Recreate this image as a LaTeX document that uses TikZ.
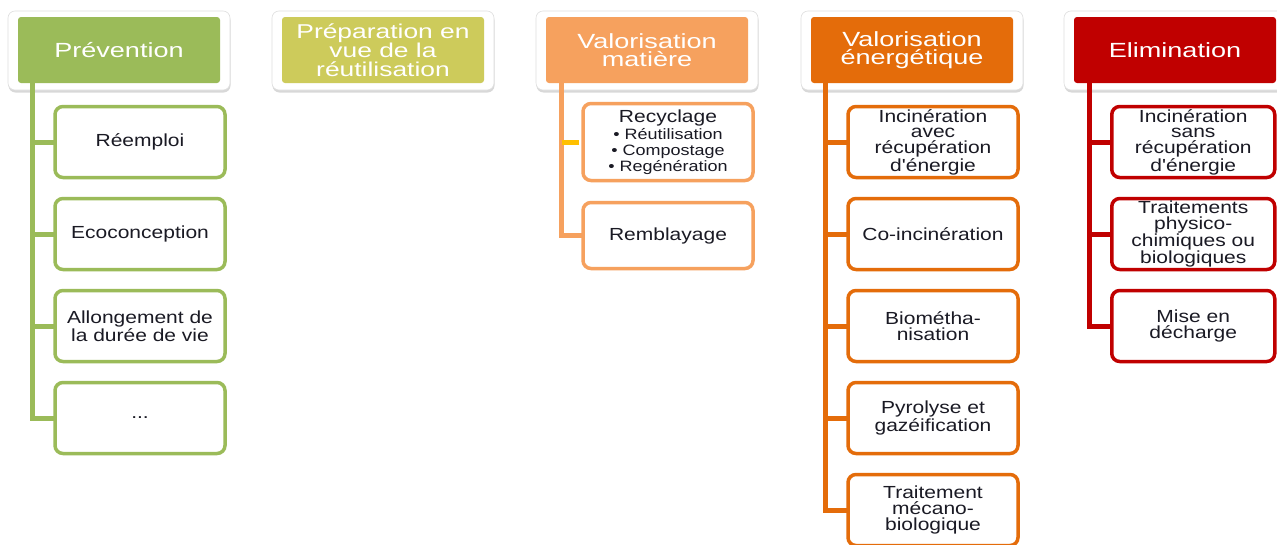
\documentclass[tikz,border=0pt]{standalone}
\usepackage{fontspec}
\setmainfont{Liberation Sans}
\newfontfamily\hfont[FakeStretch=1.32]{Liberation Sans}
\newfontfamily\cfont[FakeStretch=1.2]{Liberation Sans}
\usetikzlibrary{calc,shadows}
\definecolor{cgreen}{HTML}{9BBB59}
\definecolor{cyel}{HTML}{CDCB5B}
\definecolor{clor}{HTML}{F6A15E}
\definecolor{cor}{HTML}{E46C0A}
\definecolor{cred}{HTML}{C00000}
\definecolor{cgold}{HTML}{FFC000}
\definecolor{ctext}{HTML}{1A1A24}
\newcommand\bsmall{\fontsize{15}{14.5}\selectfont}
\tikzset{
  frame/.style={fill=white, draw=gray!25, line width=0.6pt, rounded corners=7pt,
    drop shadow={shadow xshift=0.5pt, shadow yshift=-2.5pt, opacity=0.3, fill=gray}},
  hdr/.style={fill=#1, text=white, minimum width=202pt, minimum height=66pt,
    rounded corners=3pt, inner sep=0pt, align=center,
    font=\hfont\fontsize{20.5}{18.5}\selectfont},
  child/.style={draw=#1, line width=3.5pt, fill=white, rounded corners=8pt,
    minimum width=170pt, minimum height=71pt, inner sep=0pt, align=center,
    text=ctext, font=\cfont\fontsize{17.5}{15.8}\selectfont},
  trunk/.style={draw=#1, line width=5pt},
}
\begin{document}
\begin{tikzpicture}[x=1pt,y=-1pt]
\useasboundingbox (0,0) rectangle (1277,544);
\clip (0,0) rectangle (1277,544);
\fill[white] (0,0) rectangle (1277,544);

% header frames (white, shadowed)
\path[frame] (8,11) rectangle (230,90);
\path[frame] (272,11) rectangle (494,90);
\path[frame] (536,11) rectangle (758,90);
\path[frame] (801,11) rectangle (1023,90);
\path[frame] (1064,11) rectangle (1286,90);

% headers
\node[hdr=cgreen] (p) at (119,50) {Prévention};
\node[hdr=cyel, font=\hfont\fontsize{20}{19}\selectfont] (r) at (383,50) {Préparation en\\vue de la\\réutilisation};
\node[hdr=clor] (m) at (647,50) {Valorisation\\matière};
\node[hdr=cor] (e) at (912,50) {Valorisation\\énergétique};
\node[hdr=cred] (x) at (1175,50) {Elimination};

% trunk coordinates
\coordinate (pt) at ($(p.south west)+(15,0)$);
\coordinate (mt) at ($(m.south west)+(16,0)$);
\coordinate (et) at ($(e.south west)+(15,0)$);
\coordinate (xt) at ($(x.south west)+(16,0)$);

% children
\node[child=cgreen] (p1) at (140,142) {Réemploi};
\node[child=cgreen] (p2) at (140,234) {Ecoconception};
\node[child=cgreen] (p3) at (140,326) {Allongement de\\la durée de vie};
\node[child=cgreen] (p4) at (140,418) {...};

\node[child=clor, minimum height=77pt] (m1) at (668,142)
  {Recyclage\\[2pt]\bsmall • Réutilisation\\\bsmall • Compostage\\\bsmall • Regénération};
\node[child=clor, minimum height=66pt] (m2) at (668,235.5) {Remblayage};

\node[child=cor] (e1) at (933,142) {Incinération\\avec\\récupération\\d'énergie};
\node[child=cor] (e2) at (933,234) {Co-incinération};
\node[child=cor] (e3) at (933,326) {Biométha-\\nisation};
\node[child=cor] (e4) at (933,418) {Pyrolyse et\\gazéification};
\node[child=cor] (e5) at (933,510) {Traitement\\mécano-\\biologique};

\node[child=cred, minimum width=163pt] (x1) at (1193.25,142) {Incinération\\sans\\récupération\\d'énergie};
\node[child=cred, minimum width=163pt] (x2) at (1193.25,234) {Traitements\\physico-\\chimiques ou\\biologiques};
\node[child=cred, minimum width=163pt] (x3) at (1193.25,326) {Mise en\\décharge};

% trunks with final elbow
\draw[trunk=cgreen] (pt) |- ([xshift=1.5pt]p4.west);
\draw[trunk=clor] (mt) |- ([xshift=1.5pt]m2.west);
\draw[trunk=cor] (et) |- ([xshift=1.5pt]e5.west);
\draw[trunk=cred] (xt) |- ([xshift=1.5pt]x3.west);

% stubs
\foreach \c in {p1,p2,p3}{ \draw[trunk=cgreen] ([xshift=1.5pt]\c.west) -- (\c.west -| pt); }
\draw[trunk=cgold] ([xshift=-1.8pt]m1.west) -- (m1.west -| mt);
\foreach \c in {e1,e2,e3,e4}{ \draw[trunk=cor] ([xshift=1.5pt]\c.west) -- (\c.west -| et); }
\foreach \c in {x1,x2}{ \draw[trunk=cred] ([xshift=1.5pt]\c.west) -- (\c.west -| xt); }
\end{tikzpicture}
\end{document}
